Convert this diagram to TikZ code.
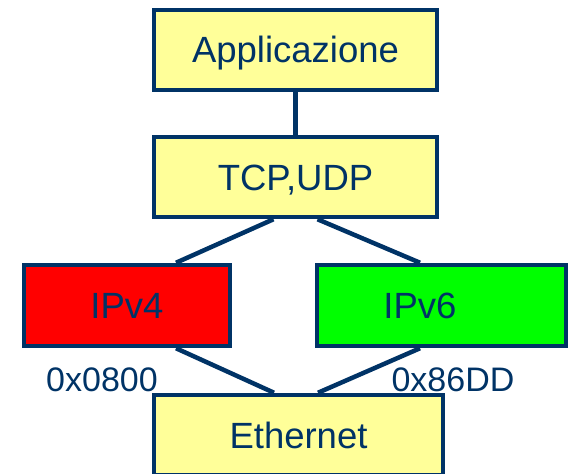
\documentclass[tikz,border=0pt]{standalone}
\usepackage{fontspec}
\setmainfont{Liberation Sans}
\usetikzlibrary{calc}
\definecolor{navy}{RGB}{0,51,102}
\definecolor{paleyellow}{RGB}{255,255,153}

\begin{document}
\begin{tikzpicture}[x=1pt,y=-1pt,
  layer/.style={draw=navy,line width=4.5pt,fill=paleyellow,text=navy,
    font=\fontsize{36.5}{40}\selectfont,text height=26pt,text depth=0pt,
    minimum height=80pt,inner sep=0pt},
  link/.style={draw=navy,line width=4.5pt},
  ethertype/.style={text=navy,font=\fontsize{34}{40}\selectfont,anchor=base,inner sep=0pt}]
\clip (0,0) rectangle (569,473);

% protocol stack
\node[layer,minimum width=283pt] (app) at (295.5,50) {Applicazione};
\node[layer,minimum width=283pt] (tcp) at (295.5,177) {TCP,UDP};
\node[layer,minimum width=206pt,minimum height=81pt,fill=red] (ipv4) at (127,305.5) {IPv4};
\node[layer,minimum width=249pt,minimum height=81pt,fill=green] (ipv6) at (441.5,305.5) {};
\node[text=navy,font=\fontsize{36.5}{40}\selectfont,text height=26pt,text depth=0pt,inner sep=0pt] (ipv6text) at (420,305.5) {IPv6};
\node[layer,minimum width=289pt] (eth) at (298.5,435) {Ethernet};

% EtherType values
\node[ethertype] (typev4) at (102,391) {0x0800};
\node[ethertype] (typev6) at (453,391) {0x86DD};

\draw[link] (app.south) -- (tcp.north);
\draw[link] ($(tcp.south)+(-22,0)$) -- ($(ipv4.north)+(49,0)$);
\draw[link] ($(tcp.south)+(22,0)$) -- ($(ipv6.north)+(-21.5,0)$);
\draw[link] ($(ipv4.south)+(49,0)$) -- ($(eth.north)+(-24.5,0)$);
\draw[link] ($(ipv6.south)+(-21.5,0)$) -- ($(eth.north)+(19.5,0)$);
\end{tikzpicture}
\end{document}
